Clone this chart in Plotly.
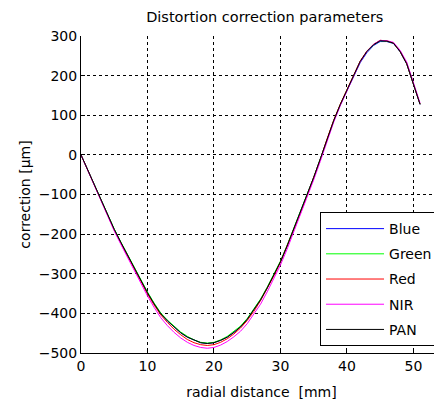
import plotly.graph_objects as go

radial_mm = list(range(0, 52))

blue = [0, -38, -78, -116, -153, -188, -221, -253, -284, -316, -348, -376, -401, -419, -435, -449, -460, -468, -474, -476,
        -474, -468, -460, -448, -434, -415, -392, -366, -336, -304, -270, -230, -188, -146, -102, -57, -10, 40, 85, 126,
        163, 200, 233, 258, 276, 286, 286, 281, 260, 229, 179, 127]
green = [0, -38, -77, -115, -152, -187, -220, -252, -283, -314, -346, -374, -399, -417, -433, -447, -458, -467, -473, -475,
         -473, -467, -458, -446, -432, -413, -390, -364, -334, -302, -268, -228, -186, -145, -101, -57, -10, 40, 86, 127,
         164, 202, 236, 261, 278, 288, 287, 282, 261, 230, 180, 128]
red = [0, -38, -78, -116, -154, -190, -223, -256, -287, -319, -351, -379, -404, -423, -440, -454, -466, -474, -479, -481,
       -479, -473, -464, -452, -437, -418, -395, -368, -338, -306, -271, -231, -189, -147, -103, -58, -11, 40, 87, 128,
       165, 203, 237, 262, 279, 289, 288, 282, 261, 230, 180, 128]
nir = [0, -38, -78, -117, -156, -192, -226, -259, -291, -324, -356, -385, -411, -431, -448, -462, -473, -481, -486, -488,
       -486, -480, -471, -459, -445, -426, -403, -377, -346, -313, -278, -238, -195, -152, -108, -63, -16, 35, 82, 124,
       162, 200, 235, 261, 279, 289, 288, 284, 264, 234, 184, 131]
pan = [0, -38, -77, -115, -153, -188, -221, -253, -284, -316, -348, -376, -401, -419, -435, -449, -460, -468, -474, -476,
       -474, -468, -460, -448, -434, -415, -392, -366, -336, -304, -270, -230, -188, -146, -102, -57, -10, 40, 86, 127,
       164, 202, 236, 261, 278, 288, 287, 282, 261, 230, 180, 128]

series_names = ["Blue", "Green", "Red", "NIR", "PAN"]
series_values = [blue, green, red, nir, pan]
series_colors = ["#0000ff", "#00ff00", "#ff0000", "#ff00ff", "#000000"]

x_ticks = [0, 10, 20, 30, 40, 50]
y_ticks = [300, 200, 100, 0, -100, -200, -300, -400, -500]

FONT = "DejaVu Sans, sans-serif"
FS = 14

fig = go.Figure()
for name, vals, col in zip(series_names, series_values, series_colors):
    fig.add_trace(go.Scatter(x=radial_mm, y=vals, mode="lines", name=name,
                             legendgroup=name,
                             line=dict(color=col, width=1)))

axis_common = dict(showline=True, linecolor="#000000", linewidth=1, mirror=False,
                   ticks="inside", ticklen=4, tickcolor="#000000", automargin=False,
                   showgrid=True, gridcolor="#000000", gridwidth=1, griddash="3px,3px",
                   zeroline=False, tickfont=dict(size=FS, color="#000000", family=FONT))

fig.update_layout(
    width=442, height=403,
    margin=dict(l=73, r=8, t=28, b=58),
    paper_bgcolor="white", plot_bgcolor="white",
    font=dict(family=FONT, size=FS, color="#000000"),
    title=dict(text="Distortion correction parameters", x=0.581, xanchor="center",
               y=0.978, yanchor="middle", font=dict(size=14.5, family=FONT)),
    xaxis=dict(range=[0, 54.3], tickvals=x_ticks,
               title=dict(text="radial distance  [mm]", standoff=14, font=dict(size=FS, family=FONT)),
               **axis_common),
    yaxis=dict(range=[-500, 300], tickvals=y_ticks,
               title=dict(text="correction [µm]", standoff=4, font=dict(size=FS, family=FONT)),
               **axis_common),
    legend=dict(x=0.989, y=0.022, xanchor="right", yanchor="bottom",
                bgcolor="white", bordercolor="#000000", borderwidth=1,
                tracegroupgap=4, itemwidth=58,
                font=dict(size=FS, family=FONT)),
)

fig.write_html("out.html")
